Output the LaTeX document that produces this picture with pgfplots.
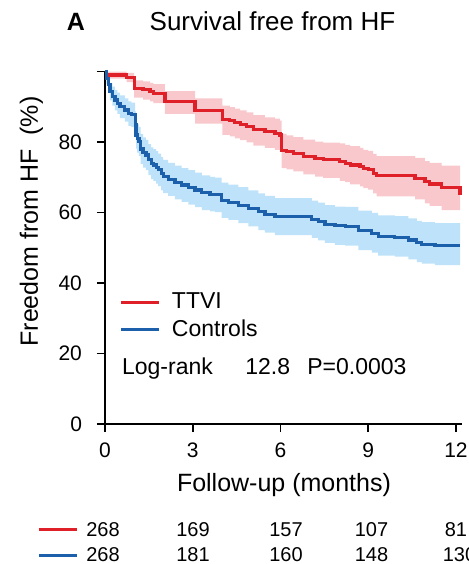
\documentclass[border=0pt]{standalone}
\usepackage{pgfplots}
\usepackage{pgfplotstable}
\pgfplotsset{compat=1.18}
\usepgfplotslibrary{fillbetween}
\usepackage{fontspec}
\setmainfont{Liberation Sans}
\definecolor{redline}{RGB}{224,32,40}
\definecolor{blueline}{RGB}{28,96,172}
\definecolor{redband}{RGB}{248,200,204}
\definecolor{blueband}{RGB}{190,226,249}

\pgfplotstableread{
t s u l
0 100 100 100
0.05 99.0 100 98.0
0.74 98.4 99.6 97.0
1.00 95.2 97.5 92.6
1.30 94.8 97.2 92.0
1.54 94.3 96.8 91.5
1.65 93.8 96.4 91.0
2.05 91.4 94.4 88.0
3.08 89.0 92.4 85.2
4.01 86.4 90.3 82.0
4.27 86.0 89.9 81.6
4.44 85.5 89.5 81.0
4.62 85.0 89.0 80.5
4.84 84.4 88.4 79.9
5.07 83.6 87.6 79.0
5.47 82.9 87.0 78.3
5.81 82.5 86.6 77.8
5.98 82.0 86.1 77.3
6.04 77.7 82.3 72.6
6.21 77.3 81.9 72.2
6.44 76.8 81.4 71.7
6.78 76.0 80.7 70.8
7.18 75.4 80.1 70.2
7.46 75.1 79.8 69.8
8.03 74.4 79.6 69.0
8.21 74.0 79.2 68.6
8.38 73.5 78.8 68.0
8.72 73.0 78.3 67.4
8.83 72.5 77.8 66.9
9.00 72.1 77.5 66.5
9.17 71.1 76.6 65.4
9.29 70.4 76.0 64.6
10.60 69.7 75.5 63.7
10.94 68.7 74.6 62.6
11.10 68.1 74.1 61.9
11.51 67.1 73.3 60.7
12.14 65.0 73.3 60.7
}\redtab

\pgfplotstableread{
t s u l
0 100 100 100
0.05 98.0 99.5 96.5
0.11 96.2 98.2 94.2
0.17 94.3 96.8 91.8
0.25 93.0 95.7 90.3
0.34 91.9 94.8 89.0
0.42 91.0 94.0 88.0
0.51 90.0 93.2 86.8
0.68 89.1 92.4 85.8
0.80 88.1 91.5 84.6
0.90 87.7 91.2 84.2
1.03 85.0 88.7 81.3
1.06 82.0 85.9 78.1
1.10 81.0 85.0 77.0
1.16 80.2 84.3 76.1
1.22 78.0 82.2 73.8
1.30 77.0 81.3 72.7
1.40 76.3 80.6 72.0
1.48 75.0 79.4 70.6
1.58 74.0 78.5 69.5
1.65 73.5 78.0 69.0
1.75 72.8 77.4 68.2
1.82 72.1 76.7 67.5
1.92 71.0 75.7 66.3
1.99 70.2 74.9 65.5
2.16 69.4 74.1 64.7
2.39 68.5 73.3 63.7
2.62 67.8 72.6 63.0
2.85 67.1 72.0 62.2
3.08 66.4 71.3 61.5
3.31 65.6 70.5 60.7
3.59 65.2 70.1 60.3
3.76 65.0 69.9 60.1
3.99 63.5 68.5 58.5
4.22 62.9 67.9 57.9
4.56 62.1 67.2 57.0
4.90 61.2 66.3 56.1
5.24 60.2 65.4 55.0
5.47 59.5 64.7 54.3
5.81 58.8 64.1 53.6
7.07 58.1 63.4 52.8
7.29 57.4 62.8 52.1
7.52 56.7 62.1 51.4
7.86 56.2 61.7 50.8
8.21 56.0 61.6 50.6
8.66 54.8 60.5 49.3
9.12 54.1 59.9 48.6
9.34 53.3 59.2 47.8
9.91 53.0 59.0 47.5
10.37 52.2 58.3 46.7
10.66 51.4 57.6 45.9
10.83 51.0 57.3 45.5
11.28 50.6 57.0 45.1
12.14 50.6 57.0 45.1
}\blutab

\begin{document}
\begin{tikzpicture}
\begin{axis}[
  at={(0,0)}, anchor=south west,
  scale only axis, width=178.425pt, height=176.25pt,
  xmin=0, xmax=12.2, ymin=0, ymax=100,
  axis x line*=bottom, axis y line*=left,
  axis line style={line width=0.9pt, black},
  xtick={0,3,6,9,12}, ytick={0,20,40,60,80,100},
  yticklabels={0,20,40,60,80,{}},
  tick align=outside, major tick length=4pt,
  every tick/.style={black, line width=0.9pt},
  tick label style={font=\fontsize{10.5}{12}\selectfont},
  /pgf/number format/assume math mode=true,
  xticklabel style={yshift=-2pt},
  yticklabel style={xshift=-4pt},
  xlabel={Follow-up (months)},
  ylabel={Freedom from HF\ \ (\%)},
  label style={font=\fontsize{12.5}{14}\selectfont},
  xlabel style={at={(axis description cs:0.5016,-0.192)}, anchor=base},
  ylabel style={at={(axis description cs:-0.1878,0.5745)}, anchor=base},
  legend style={at={(axis description cs:0.042,0.3753)}, anchor=north west, draw=none, fill=none,
    font=\fontsize{11.5}{13}\selectfont, inner sep=0pt, outer sep=0pt,
    nodes={inner sep=0pt, text height=8.5pt, text depth=0pt},
    row sep=5.4pt, column sep=5.5pt},
  legend cell align=left,
  legend image code/.code={\draw[#1, line width=1.5pt] (0pt,-0.9pt) -- (19pt,-0.9pt);},
  clip=false,
]
\addplot[const plot, draw=none, name path=bu, forget plot] table[x=t,y=u]{\blutab};
\addplot[const plot, draw=none, name path=bl, forget plot] table[x=t,y=l]{\blutab};
\addplot[blueband, forget plot] fill between[of=bu and bl];
\addplot[const plot, draw=none, name path=ru, forget plot] table[x=t,y=u]{\redtab};
\addplot[const plot, draw=none, name path=rl, forget plot] table[x=t,y=l]{\redtab};
\addplot[redband, forget plot] fill between[of=ru and rl];
\addplot[const plot, redline, line width=1.6pt] table[x=t,y=s]{\redtab};
\addlegendentry{TTVI}
\addplot[const plot, blueline, line width=1.6pt] table[x=t,y=s]{\blutab};
\addlegendentry{Controls}
\end{axis}
\begin{scope}[x=0.5pt,y=-0.5pt,shift={(-105,-424)}]
\node[anchor=base, font=\bfseries\fontsize{12.5}{14}\selectfont] at (76,30) {A};
\node[anchor=base, inner sep=0pt, font=\fontsize{13}{15}\selectfont] at (272.5,30) {Survival free from HF};
\begin{scope}[font=\fontsize{11.5}{13}\selectfont]
\node[anchor=base west, inner sep=0pt] at (121.7,374) {Log-rank};
\node[anchor=base west, inner sep=0pt] at (245,374) {12.8};
\node[anchor=base west, inner sep=0pt] at (307,374) {P=0.0003};
\end{scope}
\draw[redline, line width=1.5pt] (39,529) -- (77,529);
\draw[blueline, line width=1.5pt] (39,555.5) -- (77,555.5);
\begin{scope}[font=\fontsize{10}{12}\selectfont]
\node[anchor=base, inner sep=0pt] at (103,536.5) {268};
\node[anchor=base, inner sep=0pt] at (193,536.5) {169};
\node[anchor=base, inner sep=0pt] at (286,536.5) {157};
\node[anchor=base, inner sep=0pt] at (371.5,536.5) {107};
\node[anchor=base, inner sep=0pt] at (456,536.5) {81};
\node[anchor=base, inner sep=0pt] at (103,561.5) {268};
\node[anchor=base, inner sep=0pt] at (193,561.5) {181};
\node[anchor=base, inner sep=0pt] at (286,561.5) {160};
\node[anchor=base, inner sep=0pt] at (371.5,561.5) {148};
\node[anchor=base, inner sep=0pt] at (459.5,561.5) {130};
\end{scope}
\pgfresetboundingbox
\path[use as bounding box] (0,0) rectangle (468,564);
\end{scope}
\end{tikzpicture}
\end{document}
